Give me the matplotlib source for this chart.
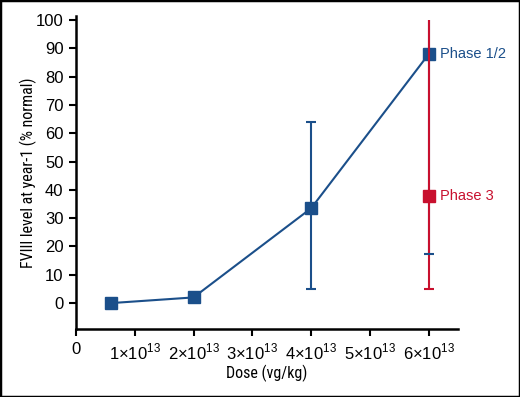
import numpy as np
import matplotlib.pyplot as plt
from matplotlib.patches import Rectangle

# Phase 1/2 data
p12_dose = [0.6e13, 2e13, 4e13, 6e13]
p12_fviii = [0, 2, 33.5, 88]
p12_low = [0, 0, 5, 17.5]
p12_high = [0, 0, 64, 100]

# Phase 3 data
p3_dose = [6e13]
p3_fviii = [38]
p3_low = [5]
p3_high = [100]

xticks = [0, 1e13, 2e13, 3e13, 4e13, 5e13, 6e13]
xticklabels = ['0'] + [r'%d$\times$10$^{13}$' % i for i in range(1, 7)]
yticks = list(range(0, 101, 10))

blue = '#1b4f8a'
red = '#c8102e'

plt.rcParams['font.family'] = ['Liberation Sans', 'DejaVu Sans']
plt.rcParams['mathtext.fontset'] = 'custom'
plt.rcParams['mathtext.rm'] = 'Liberation Sans'

fig = plt.figure(figsize=(5.2, 3.97), dpi=100)
ax = fig.add_axes([0.146, 0.171, 0.735, 0.789])

# phase 1/2 bars; caps drawn separately (the top one at 6e13 has none)
lo = np.array(p12_fviii) - np.array(p12_low)
hi = np.array(p12_high) - np.array(p12_fviii)
ax.errorbar(p12_dose[2:], p12_fviii[2:], yerr=[lo[2:], hi[2:]], fmt='none',
            ecolor=blue, elinewidth=1.5, capsize=0, zorder=2)
ax.plot(p12_dose[2:], p12_low[2:], ls='none', marker='_', ms=7, mew=1.5,
        color=blue, zorder=7)
ax.plot(p12_dose[2:3], p12_high[2:3], ls='none', marker='_', ms=7, mew=1.5,
        color=blue, zorder=2)
ax.plot(p12_dose, p12_fviii, color=blue, lw=1.5, marker='s', ms=8,
        mfc=blue, mec=blue, zorder=3)

# phase 3 bar: cap only at the lower end
lo3 = np.array(p3_fviii) - np.array(p3_low)
hi3 = np.array(p3_high) - np.array(p3_fviii)
ax.errorbar(p3_dose, p3_fviii, yerr=[lo3, hi3], fmt='none', ecolor=red,
            elinewidth=1.5, capsize=0, zorder=6)
ax.plot(p3_dose, p3_low, ls='none', marker='_', ms=7, mew=1.5, color=red,
        zorder=8)
ax.plot(p3_dose, p3_fviii, ls='none', marker='s', ms=8, mfc=red, mec=red,
        zorder=5)

ax.text(6.2e13, p12_fviii[-1], 'Phase 1/2', color=blue, fontsize=10.5,
        va='center', ha='left', clip_on=False)
ax.text(6.2e13, p3_fviii[0], 'Phase 3', color=red, fontsize=10.5,
        va='center', ha='left', clip_on=False)

ax.set_xlim(0, 6.5e13)
ax.set_ylim(-9.2, 101.5)
ax.set_xticks(xticks)
ax.set_xticklabels(xticklabels)
ax.set_yticks(yticks)
for s in ['top', 'right']:
    ax.spines[s].set_visible(False)
for s in ['left', 'bottom']:
    ax.spines[s].set_linewidth(1.8)
ax.tick_params(direction='out', length=5, width=1.5, labelsize=12, pad=4)
ax.tick_params(axis='x', pad=4)

narrow = ['Liberation Sans Narrow', 'Roboto Condensed', 'Liberation Sans']
ax.set_xlabel('Dose (vg/kg)', fontsize=11.5, labelpad=2, family=narrow)
ax.set_ylabel('FVIII level at year-1 (% normal)', fontsize=11.5,
              labelpad=-1, family=narrow)

fig.patches.append(Rectangle((0, 0), 1, 1, transform=fig.transFigure,
                             fill=False, edgecolor='black', lw=2.5))

fig.savefig('out.png', dpi=100)
